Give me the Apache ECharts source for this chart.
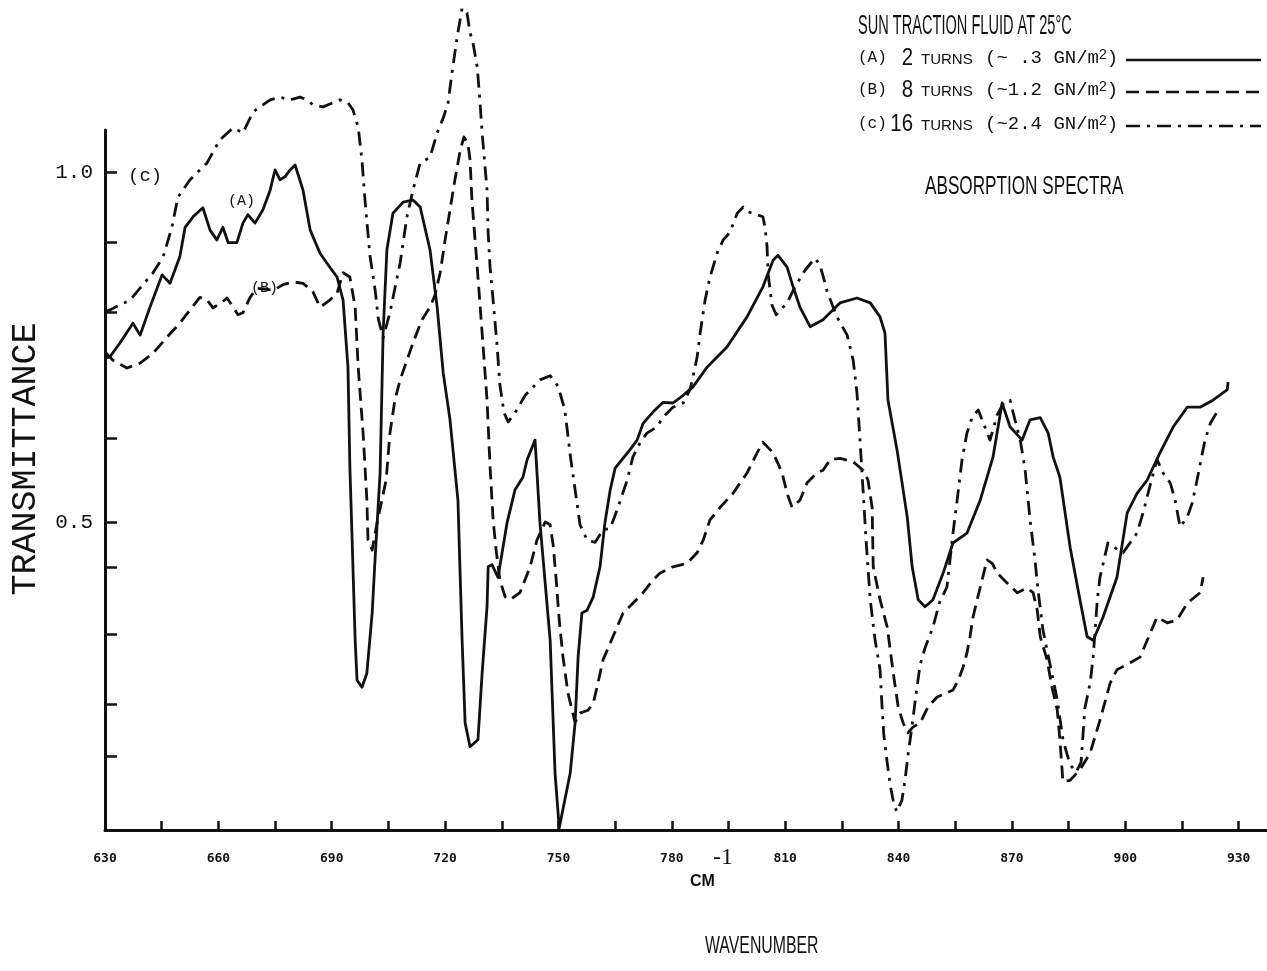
<!DOCTYPE html>
<html>
<head>
<meta charset="utf-8">
<title>Sun traction fluid - absorption spectra</title>
<script src="https://cdn.jsdelivr.net/npm/echarts@6/dist/echarts.min.js"></script>
<style>
  html, body { margin: 0; padding: 0; background: #fff; }
  #spectra_chart { width: 1267px; height: 971px; }
</style>
</head>
<body>
<div id="spectra_chart"></div>
<script>
// [wavenumber cm-1, transmittance]
const curveA = [[630,0.734],[631.3,0.736],[634,0.756],[637.4,0.784],[639.3,0.767],[641.9,0.807],[645.1,0.853],[647.2,0.841],[649.8,0.879],[651.2,0.921],[653.3,0.936],[655.9,0.949],[657.8,0.917],[659.6,0.903],[661.2,0.921],[662.6,0.899],[664.9,0.899],[666.5,0.927],[667.8,0.939],[669.7,0.927],[671.8,0.946],[673.7,0.974],[675,1.003],[676.3,0.989],[677.6,0.993],[679,1.003],[680.3,1.01],[682.4,0.974],[684.3,0.917],[686.9,0.884],[689.5,0.864],[691.4,0.85],[693,0.817],[694.3,0.721],[694.8,0.579],[695.4,0.474],[696.2,0.331],[696.7,0.274],[698,0.264],[699.3,0.284],[700.7,0.37],[701.5,0.45],[702.8,0.57],[703.6,0.77],[704.6,0.889],[706.2,0.941],[708.9,0.957],[711.5,0.96],[713.4,0.95],[716,0.889],[717.9,0.807],[719.5,0.713],[721.3,0.646],[723.4,0.531],[724.5,0.331],[725.3,0.213],[726.6,0.179],[728.7,0.189],[729.8,0.284],[731.1,0.379],[731.4,0.436],[732.4,0.439],[734,0.421],[736.4,0.499],[738.5,0.546],[740.6,0.564],[741.7,0.589],[743.8,0.617],[745.1,0.499],[747.8,0.331],[749.1,0.141],[750.2,0.063],[753.1,0.141],[754.4,0.213],[755.2,0.307],[756.2,0.37],[757.6,0.374],[759.2,0.393],[761,0.436],[762.3,0.499],[763.7,0.546],[765,0.577],[766.8,0.589],[768.9,0.603],[770.8,0.617],[772.4,0.641],[775,0.657],[777.7,0.671],[780.3,0.67],[783,0.681],[785.6,0.693],[789.3,0.721],[794.6,0.75],[799.9,0.793],[804.1,0.836],[806.8,0.874],[808.1,0.881],[810.5,0.864],[812.1,0.836],[813.9,0.807],[816.6,0.779],[820,0.789],[824.5,0.813],[829,0.82],[832.5,0.813],[835.1,0.793],[836.4,0.77],[837.2,0.674],[839.6,0.603],[842.3,0.507],[843.6,0.436],[845.2,0.389],[847,0.379],[849.1,0.389],[851.8,0.427],[854.4,0.47],[858.1,0.484],[861.6,0.531],[865,0.593],[867.4,0.67],[869.5,0.636],[872.7,0.617],[874.8,0.646],[877.5,0.649],[879.6,0.627],[880.9,0.593],[882.7,0.564],[885.4,0.464],[888,0.389],[889.9,0.336],[891.5,0.331],[894.1,0.364],[897.8,0.421],[900.5,0.513],[903.1,0.541],[905.8,0.56],[909.2,0.599],[912.7,0.636],[916.4,0.664],[919.8,0.664],[923.2,0.674],[927,0.689],[927.2,0.7]];

const curveB = [[630,0.743],[632.1,0.731],[635.8,0.72],[639.3,0.727],[642.7,0.741],[646.4,0.764],[649.8,0.784],[652.5,0.803],[655.1,0.821],[657,0.817],[658.6,0.806],[661,0.814],[662.3,0.82],[663.9,0.807],[665.2,0.796],[666.5,0.799],[668.4,0.821],[670.2,0.834],[674.5,0.831],[677.1,0.839],[679.8,0.843],[682.4,0.841],[685,0.829],[686.9,0.807],[689.5,0.817],[691.4,0.827],[693,0.856],[694.8,0.85],[696.2,0.807],[697,0.721],[698.3,0.627],[699.3,0.531],[699.6,0.474],[700.7,0.46],[702,0.499],[704.4,0.56],[705.4,0.627],[706.7,0.674],[708.1,0.703],[709.9,0.731],[711.5,0.756],[713.9,0.789],[716,0.807],[717.3,0.824],[718.7,0.856],[720,0.903],[721.3,0.946],[722.6,0.989],[724,1.031],[725,1.05],[726.1,1.039],[726.6,1.017],[727.1,0.96],[728.5,0.864],[729.8,0.77],[731.1,0.674],[731.9,0.579],[732.7,0.503],[733.5,0.46],[734.5,0.417],[735.9,0.393],[737.2,0.389],[739.8,0.399],[742.5,0.436],[744.3,0.474],[746.5,0.5],[747.8,0.496],[748.6,0.467],[749.4,0.417],[750.2,0.36],[751.2,0.307],[752.5,0.256],[753.6,0.231],[754.4,0.214],[755.7,0.227],[757.8,0.231],[759.2,0.241],[760.2,0.264],[761.8,0.303],[764.4,0.336],[767.1,0.37],[769.7,0.384],[772.4,0.399],[775,0.417],[776.9,0.427],[780.3,0.436],[784,0.441],[786.7,0.456],[788.3,0.474],[790.1,0.503],[792.8,0.521],[796.2,0.541],[799.9,0.57],[802.6,0.599],[804.1,0.614],[806.8,0.599],[809.2,0.57],[810.5,0.541],[811.8,0.521],[813.9,0.531],[815.8,0.556],[818.4,0.57],[820,0.574],[821.9,0.589],[824.5,0.591],[828,0.586],[830.6,0.574],[831.9,0.56],[833,0.521],[833.3,0.436],[835.1,0.389],[837,0.35],[838.6,0.284],[839.9,0.236],[841.2,0.213],[842.5,0.199],[843.8,0.207],[845.7,0.213],[847.8,0.236],[850.2,0.25],[852.8,0.256],[854.4,0.26],[855.8,0.274],[857.1,0.293],[858.1,0.313],[858.9,0.336],[859.7,0.364],[860.8,0.389],[862.1,0.417],[863.4,0.446],[864.8,0.441],[866.1,0.427],[868.7,0.413],[871.4,0.399],[874,0.406],[875.6,0.399],[876.7,0.374],[877.5,0.336],[879.3,0.303],[880.6,0.264],[882,0.231],[882.7,0.189],[883.5,0.129],[885.4,0.131],[888,0.146],[890.7,0.17],[893.3,0.217],[896,0.27],[897.8,0.289],[901.3,0.299],[903.9,0.307],[905.8,0.331],[908.4,0.364],[911.1,0.356],[913.7,0.36],[916.4,0.384],[919.8,0.399],[920.6,0.421]];

const curveC = [[630,0.8],[631.3,0.803],[636.6,0.817],[642.7,0.856],[645.4,0.879],[647.7,0.921],[649.3,0.964],[652.5,0.989],[657,1.013],[660.4,1.046],[663.9,1.063],[666.5,1.056],[669.2,1.086],[673.7,1.103],[676.3,1.107],[679,1.103],[681.6,1.107],[683.5,1.103],[685,1.096],[687.7,1.093],[690.3,1.099],[692.2,1.103],[694.3,1.099],[695.6,1.089],[697,1.064],[698,1.017],[698.8,0.96],[700.1,0.881],[701.5,0.831],[702.3,0.791],[703.6,0.763],[705.4,0.799],[708.1,0.87],[709.9,0.936],[711.5,0.974],[713.4,1.013],[716,1.021],[717.9,1.056],[719.5,1.077],[720.8,1.099],[721.8,1.141],[723.2,1.193],[724.5,1.234],[725.8,1.227],[726.6,1.199],[727.4,1.184],[728.5,1.15],[729.2,1.103],[729.8,1.056],[731.1,0.974],[731.4,0.913],[731.9,0.864],[732.7,0.817],[733.7,0.756],[734.5,0.696],[735.6,0.656],[736.7,0.643],[738.5,0.656],[741.2,0.681],[745.1,0.703],[747.8,0.709],[749.9,0.694],[751.7,0.66],[753.1,0.596],[754.4,0.546],[755.7,0.496],[757.6,0.474],[759.7,0.471],[761.8,0.489],[763.7,0.491],[765.5,0.517],[768.2,0.56],[769.7,0.593],[771.6,0.613],[773.4,0.627],[776.1,0.636],[777.7,0.65],[780.3,0.664],[783,0.67],[784.8,0.689],[785.6,0.707],[786.7,0.736],[787.5,0.77],[788.8,0.817],[790.1,0.85],[792,0.884],[793.6,0.903],[795.4,0.914],[797.3,0.941],[798.9,0.95],[800.2,0.943],[801.5,0.941],[804.1,0.936],[804.7,0.92],[805.2,0.893],[805.5,0.853],[806.5,0.81],[807.6,0.796],[810.5,0.813],[812.6,0.836],[815.3,0.86],[817.9,0.877],[819.2,0.867],[820.3,0.846],[821.1,0.829],[823.7,0.793],[826.4,0.767],[828,0.731],[829,0.684],[829.8,0.617],[830.6,0.546],[831.4,0.474],[832.5,0.389],[833.8,0.331],[835.1,0.289],[835.6,0.239],[836.1,0.196],[836.9,0.16],[837.8,0.124],[838.8,0.096],[839.6,0.086],[840.9,0.103],[841.7,0.131],[842.5,0.167],[843.6,0.21],[844.6,0.253],[845.7,0.296],[847,0.32],[849.1,0.35],[850.9,0.386],[852.8,0.407],[854.4,0.484],[855.5,0.531],[856.8,0.589],[858.1,0.627],[859.5,0.65],[861.1,0.66],[862.6,0.639],[864.2,0.617],[866.1,0.653],[867.9,0.671],[869.5,0.674],[870.8,0.646],[872.2,0.617],[873.5,0.574],[874.8,0.503],[876.1,0.446],[876.9,0.403],[878.2,0.346],[880.1,0.296],[882,0.246],[883.5,0.189],[885.4,0.153],[887,0.143],[888.3,0.157],[889.3,0.234],[890.7,0.27],[891.5,0.307],[892.6,0.389],[893.3,0.421],[895.4,0.47],[897.3,0.463],[899.4,0.456],[903.1,0.484],[904.7,0.513],[906.6,0.553],[908.4,0.589],[910,0.57],[911.9,0.556],[913.2,0.531],[914.5,0.493],[916.4,0.507],[917.7,0.527],[919,0.56],[920.3,0.596],[921.1,0.617],[922.5,0.641],[924.6,0.66]];

// axis ticks / labels
const xLabelValues = [630, 660, 690, 720, 750, 780, 810, 840, 870, 900, 930];
const xTickValues = [645, 660, 675, 690, 705, 720, 735, 750, 765, 780, 795, 810, 825, 840, 855, 870, 885, 900, 915, 930];
const yLabelValues = [0.5, 1.0];
const yTickValues = [0.165, 0.24, 0.34, 0.435, 0.5, 0.62, 0.8, 0.9, 1.0];

const ink = '#111';
const solid = 'solid';
const dashed = [13, 7];
const dashDot = [14, 7, 3, 7];

let myChart = echarts.init(document.getElementById('spectra_chart'), null, {renderer: 'canvas'});

function legendRow(y, tag, turns, press, dash) {
  return [
    {type: 'text', x: 858, y: y, style: {text: tag, font: '16px "Liberation Mono"', fill: ink, textVerticalAlign: 'middle'}},
    {type: 'text', x: 913, y: y, scaleX: 0.85, originX: 0, style: {text: turns, font: '24px "Liberation Sans"', fill: ink, textAlign: 'right', textVerticalAlign: 'middle'}},
    {type: 'text', x: 921, y: y + 2, style: {text: 'TURNS', font: '15px "Liberation Sans"', fill: ink, textVerticalAlign: 'middle'}},
    {type: 'text', x: 985, y: y, style: {
      text: '{m|' + press + '}{s|2}{m|)}',
      rich: {
        m: {fontFamily: 'Liberation Mono', fontSize: 19, fill: ink},
        s: {fontFamily: 'Liberation Sans', fontSize: 14, fill: ink, verticalAlign: 'top'}
      },
      textVerticalAlign: 'middle'
    }},
    {type: 'line', shape: {x1: 1126, y1: y + 2, x2: 1261, y2: y + 2}, style: {stroke: ink, lineWidth: 2.6, lineDash: dash === solid ? null : dash}}
  ];
}

let graphics = [
  {type: 'text', x: 858, y: 27, scaleX: 0.54, style: {text: 'SUN TRACTION FLUID AT 25°C', font: '27px "Liberation Sans"', fill: ink, textVerticalAlign: 'middle'}},
  {type: 'text', x: 925, y: 187, scaleX: 0.66, style: {text: 'ABSORPTION SPECTRA', font: '26px "Liberation Sans"', fill: ink, textVerticalAlign: 'middle'}},
  {type: 'text', x: 26, y: 459, rotation: Math.PI / 2, style: {text: 'TRANSMITTANCE', font: '35px "Liberation Mono"', fill: ink, textAlign: 'center', textVerticalAlign: 'middle'}},
  {type: 'text', x: 690, y: 882, style: {text: 'CM', font: 'bold 16px "Liberation Sans"', fill: ink, textVerticalAlign: 'middle'}},
  {type: 'text', x: 713, y: 858, style: {text: '-1', font: '24px "Liberation Serif"', fill: ink, textVerticalAlign: 'middle'}},
  {type: 'text', x: 705, y: 946, scaleX: 0.66, style: {text: 'WAVENUMBER', font: '24px "Liberation Sans"', fill: ink, textVerticalAlign: 'middle'}},
  {type: 'text', x: 128, y: 176, style: {text: '(c)', font: '19px "Liberation Mono"', fill: ink, textVerticalAlign: 'middle'}},
  {type: 'text', x: 228, y: 201, style: {text: '(A)', font: '15px "Liberation Mono"', fill: ink, textVerticalAlign: 'middle'}},
  {type: 'text', x: 251, y: 288, style: {text: '(B)', font: '15px "Liberation Mono"', fill: ink, textVerticalAlign: 'middle'}}
];
graphics = graphics
  .concat(legendRow(58, '(A)', '2', '(~ .3 GN/m', solid))
  .concat(legendRow(90, '(B)', '8', '(~1.2 GN/m', dashed))
  .concat(legendRow(124, '(c)', '16', '(~2.4 GN/m', dashDot));

function spectrum(name, data, dash) {
  return {
    name: name,
    type: 'line',
    data: data,
    showSymbol: false,
    symbol: 'none',
    clip: false,
    lineStyle: {color: ink, width: 2.8, type: dash, cap: 'butt', join: 'round'}
  };
}

myChart.setOption({
  animation: false,
  backgroundColor: '#fff',
  grid: {left: 105, right: 0, top: 130, bottom: 141},
  xAxis: {
    type: 'value',
    min: 630,
    max: 937.5,
    axisLine: {lineStyle: {color: ink, width: 3}},
    splitLine: {show: false},
    axisTick: {inside: true, length: 9, lineStyle: {color: ink, width: 2.5}, customValues: xTickValues},
    axisLabel: {
      customValues: xLabelValues,
      margin: 22,
      color: ink,
      fontFamily: 'DejaVu Sans Mono',
      fontWeight: 'bold',
      fontSize: 13
    }
  },
  yAxis: {
    type: 'value',
    min: 0.06,
    max: 1.06,
    axisLine: {show: true, lineStyle: {color: ink, width: 3}},
    splitLine: {show: false},
    axisTick: {show: true, inside: true, length: 12, lineStyle: {color: ink, width: 2.5}, customValues: yTickValues},
    axisLabel: {
      customValues: yLabelValues,
      margin: 12,
      color: ink,
      fontFamily: 'Liberation Mono',
      fontSize: 21,
      formatter: function (v) { return v.toFixed(1); }
    }
  },
  graphic: graphics,
  series: [
    spectrum('A', curveA, solid),
    spectrum('B', curveB, dashed),
    spectrum('C', curveC, dashDot)
  ]
});
</script>
</body>
</html>
